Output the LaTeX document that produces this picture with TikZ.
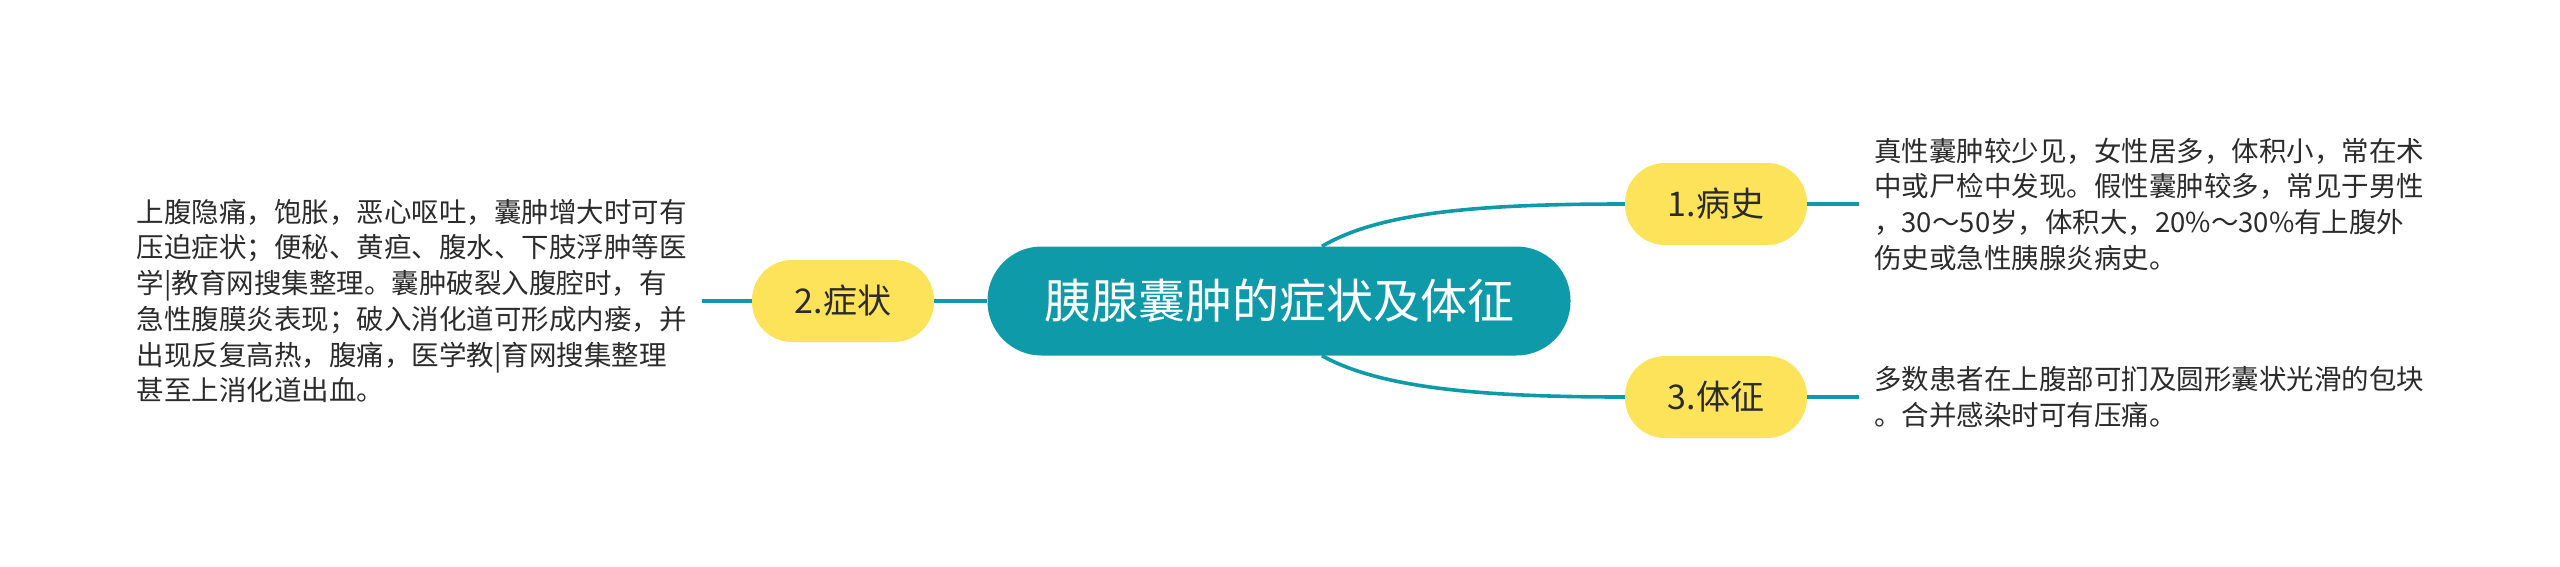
\documentclass[tikz,border=0pt]{standalone}
\usepackage{fontspec}
\setmainfont{Noto Sans CJK SC}
\definecolor{teal}{HTML}{0F9AAA}
\definecolor{sun}{HTML}{FDE35A}
\definecolor{ink}{HTML}{2B2B2B}
\begin{document}
\begin{tikzpicture}[x=1pt,y=-1pt,
        root/.style={fill=teal, text=white, rounded corners=54pt, minimum width=583pt, minimum height=109pt, font=\fontsize{47}{50}\selectfont},
        topic/.style={fill=sun, text=ink, rounded corners=40pt, minimum width=182pt, minimum height=82pt, font=\fontsize{34}{36}\selectfont},
        note/.style={text=ink, align=left, inner xsep=15pt, inner ysep=0pt, font=\fontsize{27.5}{35.7}\selectfont},
        link/.style={draw=teal, line width=3.6pt}]
                \useasboundingbox (0,0) rectangle (2560,566);
                \node[root] (centre) at (1279,301) {胰腺囊肿的症状及体征};
                \node[topic] (history) at (1716,204) {1.病史};
                \node[topic] (symptom) at (843,301) {2.症状};
                \node[topic] (sign) at (1716,397) {3.体征};
                \node[note, anchor=west] (historytext) at (1859,204) {真性囊肿较少见，女性居多，体积小，常在术\\中或尸检中发现。假性囊肿较多，常见于男性\\，30～50岁，体积大，20\%～30\%有上腹外\\伤史或急性胰腺炎病史。};
                \node[note, anchor=east] (symptomtext) at (702,301) {上腹隐痛，饱胀，恶心呕吐，囊肿增大时可有\\压迫症状；便秘、黄疸、腹水、下肢浮肿等医\\学|教育网搜集整理。囊肿破裂入腹腔时，有\\急性腹膜炎表现；破入消化道可形成内瘘，并\\出现反复高热，腹痛，医学教|育网搜集整理\\甚至上消化道出血。};
                \node[note, anchor=west] (signtext) at (1859,397) {多数患者在上腹部可扪及圆形囊状光滑的包块\\。合并感染时可有压痛。};
                % branches
                \draw[link] ([xshift=43pt]centre.north) .. controls (1380,212) and (1480,204) .. (history.west);
                \draw[link] ([xshift=43pt]centre.south) .. controls (1380,388) and (1480,397) .. (sign.west);
                \draw[link] (centre.west) -- (symptom.east);
                % leaves
                \draw[link] (history.east) -- (historytext.west);
                \draw[link] (sign.east) -- (signtext.west);
                \draw[link] (symptom.west) -- (symptomtext.east);
            \end{tikzpicture}
\end{document}
